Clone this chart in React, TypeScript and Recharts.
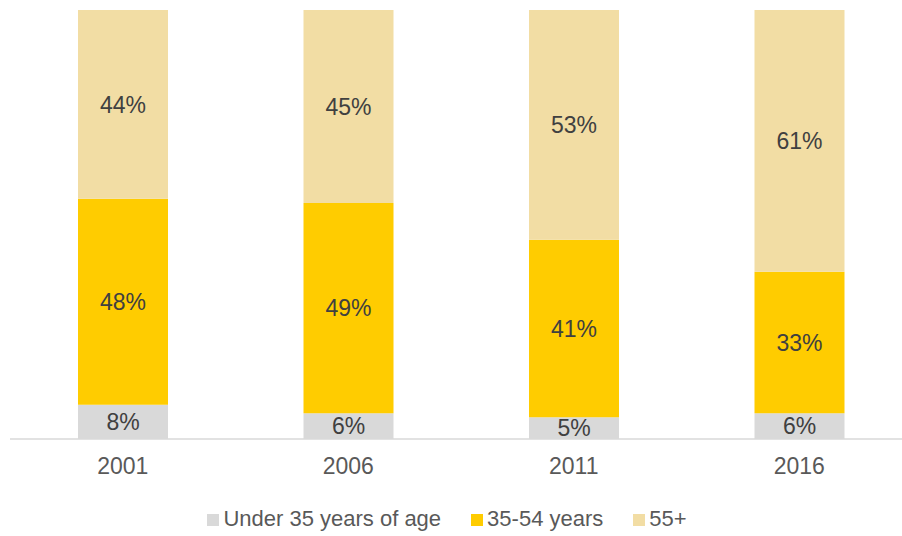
import { BarChart, Bar, XAxis, YAxis, Legend, LabelList } from "recharts";

const years = ["2001", "2006", "2011", "2016"];
const under35 = [8, 6, 5, 6];
const mid = [48, 49, 41, 33];
const over55 = [44, 45, 53, 61];
const seriesOrder = ["Under 35 years of age", "35-54 years", "55+"];

const data = years.map((year, i) => ({
  year,
  under: under35[i],
  mid: mid[i],
  over: over55[i],
}));

const FONT = "'Liberation Sans', Arial, sans-serif";
const pct = (v: any) => `${v}%`;
const labelStyle = { fill: "#404040", fontSize: 23, fontFamily: FONT };

const App = () => {
  return (
    <div style={{ position: "absolute", left: 0, top: 0, width: 902, height: 536, overflow: "hidden", background: "#fff" }}>
      <BarChart
        width={912}
        height={536}
        data={data}
        stackOffset="expand"
        barSize={90}
        margin={{ top: 10, right: 0, left: 10, bottom: 0 }}
      >
        <XAxis
          dataKey="year"
          axisLine={{ stroke: "#D9D9D9", strokeWidth: 1.5 }}
          tickLine={false}
          tick={{ fill: "#595959", fontSize: 23, fontFamily: FONT }}
          tickMargin={13}
          height={60}
        />
        <YAxis hide domain={[0, 1]} />
        <Legend
          verticalAlign="bottom"
          iconType="square"
          iconSize={12}
          height={37}
          itemSorter={(item: any) => seriesOrder.indexOf(item.value)}
          wrapperStyle={{ fontFamily: FONT, fontSize: 22, top: 506, left: 16, width: 892 }}
          formatter={(value: string) => <span style={{ color: "#595959", marginRight: 20 }}>{value}</span>}
        />
        <Bar dataKey="under" name="Under 35 years of age" stackId="a" fill="#D9D9D9" isAnimationActive={false}>
          <LabelList dataKey="under" position="center" formatter={pct} style={labelStyle} />
        </Bar>
        <Bar dataKey="mid" name="35-54 years" stackId="a" fill="#FFCC00" isAnimationActive={false}>
          <LabelList dataKey="mid" position="center" formatter={pct} style={labelStyle} />
        </Bar>
        <Bar dataKey="over" name="55+" stackId="a" fill="#F2DDA4" isAnimationActive={false}>
          <LabelList dataKey="over" position="center" formatter={pct} style={labelStyle} />
        </Bar>
      </BarChart>
    </div>
  );
};

export default App;
